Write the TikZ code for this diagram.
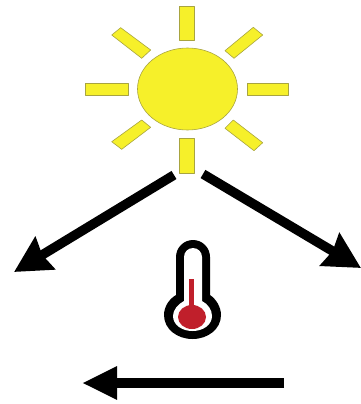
\documentclass[tikz,border=0pt]{standalone}
\usetikzlibrary{arrows.meta}
\definecolor{sunyellow}{HTML}{F6F02A}
\definecolor{sunedge}{HTML}{A8A440}
\definecolor{thermred}{HTML}{C01F2B}
\tikzset{
  sunpart/.style={fill=sunyellow,draw=sunedge,line width=0.6pt,line join=round},
  bigarrow/.style={line width=9.5pt,-{Stealth[length=36pt,width=37pt,inset=3pt]}},
  widearrow/.style={line width=10pt,-{Stealth[length=35pt,width=31pt,inset=0pt]}},
}
\begin{document}
\begin{tikzpicture}[x=1pt,y=-1pt]
\useasboundingbox (0,0) rectangle (361,404);
% sun
\draw[sunpart] (187.5,89) ellipse [x radius=50,y radius=41];
\draw[sunpart] (179,6) rectangle (194,40);
\draw[sunpart] (179,138) rectangle (194,173);
\draw[sunpart] (85,83) rectangle (128,95);
\draw[sunpart] (247,83) rectangle (288,95);
\draw[sunpart] (120.7,27.7) -- (111.7,35) -- (141.7,58.3) -- (150.7,50) -- cycle;
\draw[sunpart] (253.3,27.3) -- (262.7,35) -- (234,58.3) -- (225,50.7) -- cycle;
\draw[sunpart] (141.7,120) -- (150.7,127.3) -- (121.7,149.3) -- (111.7,141.7) -- cycle;
\draw[sunpart] (233.3,120) -- (262.7,142.7) -- (254,150.7) -- (225,128.3) -- cycle;
% arrows
\coordinate (leftstart) at (174,175);
\coordinate (lefttip) at (14,272);
\coordinate (rightstart) at (203,174);
\coordinate (righttip) at (361,268);
\coordinate (bottomstart) at (284,383);
\coordinate (bottomtip) at (82,383);
\draw[bigarrow] (leftstart) -- (lefttip);
\draw[bigarrow] (rightstart) -- (righttip);
\draw[widearrow] (bottomstart) -- (bottomtip);
% thermometer
\fill[black] (176,257) arc [start angle=180,end angle=360,radius=17] -- (210,295)
  .. controls (216,299) and (221,307) .. (221,315)
  .. controls (221,329) and (208,339) .. (192.5,339)
  .. controls (177,339) and (164,329) .. (164,315)
  .. controls (164,307) and (169,299) .. (176,295) -- cycle;
\fill[white] (184,257) arc [start angle=180,end angle=360,radius=9] -- (202,301)
  .. controls (208,304) and (212,310) .. (212,316)
  .. controls (212,325) and (203,331) .. (192.5,331)
  .. controls (182,331) and (173,325) .. (173,316)
  .. controls (173,310) and (178,304) .. (184,301) -- cycle;
\fill[thermred] (192,317) ellipse [x radius=14,y radius=12];
\fill[thermred] (189,279) rectangle (194,310);
\end{tikzpicture}
\end{document}
